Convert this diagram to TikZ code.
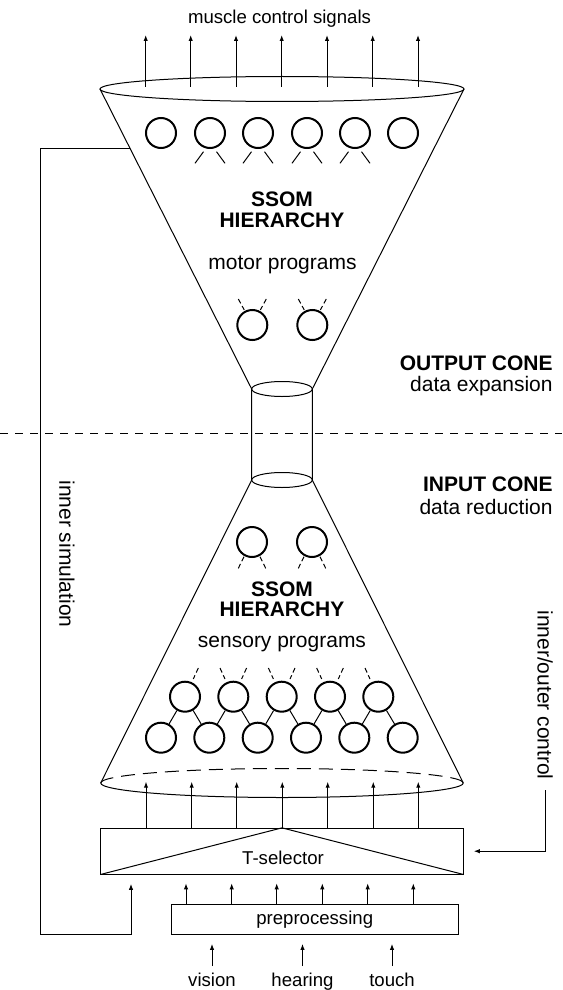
\documentclass[tikz,border=0pt]{standalone}
\usepackage{fontspec}
\setmainfont{Liberation Sans}
\usetikzlibrary{arrows.meta}

\begin{document}
\begin{tikzpicture}[x=0.5pt,y=-0.5pt,
  neuron/.style={draw,circle,line width=1pt,minimum size=15pt,inner sep=0pt},
  sig/.style={line width=0.5pt,-{Latex[length=3pt,width=2.2pt]}},
  thinline/.style={line width=0.5pt},
  dleg/.style={line width=0.5pt,dash pattern=on 2.5pt off 1.5pt},
  lbl/.style={font=\fontsize{10.5}{12}\selectfont,inner sep=0pt},
  hdr/.style={font=\bfseries\fontsize{10.5}{12}\selectfont,inner sep=0pt},
  small/.style={font=\fontsize{9.3}{11}\selectfont}]
\useasboundingbox (0,0) rectangle (562,990);

\coordinate (tl) at (100,89);
\coordinate (tr) at (464,89);
\coordinate (ctl) at (251.7,389);
\coordinate (ctr) at (312.3,389);
\coordinate (cbl) at (251.7,480);
\coordinate (cbr) at (312.3,480);
\coordinate (bl) at (100.7,783);
\coordinate (br) at (463.3,783);
\coordinate (fb) at (129.8,148.3);

\draw[thinline] (tl) -- (ctl) -- (cbl) -- (bl);
\draw[thinline] (tr) -- (ctr) -- (cbr) -- (br);
\draw[thinline] (282,89) ellipse [x radius=182, y radius=12.5];
\draw[thinline] (282,389) ellipse [x radius=30.3, y radius=7.5];
\draw[thinline] (282,480) ellipse [x radius=30.3, y radius=7.5];
\draw[thinline,dash pattern=on 7pt off 4pt] (bl) arc [start angle=180, end angle=360, x radius=181.3, y radius=14.5];
\draw[thinline] (bl) arc [start angle=180, end angle=0, x radius=181.3, y radius=14.5];

\draw[thinline,dash pattern=on 4pt off 3.5pt] (0,433) -- (562,433);

\node[small,anchor=base] (muscle) at (279.5,23.3) {muscle control signals};
\draw[sig] (145.7,87) -- (145.7,35);
\draw[sig] (190.7,87) -- (190.7,35);
\draw[sig] (236,87) -- (236,35);
\draw[sig] (281.7,87) -- (281.7,35);
\draw[sig] (327,87) -- (327,35);
\draw[sig] (372.7,87) -- (372.7,35);
\draw[sig] (418,87) -- (418,35);

\draw (161,133) node[neuron](t1) {};
\draw (210,133) node[neuron](t2) {};
\draw (258,133) node[neuron](t3) {};
\draw (307,133) node[neuron](t4) {};
\draw (355,133) node[neuron](t5) {};
\draw (403,133) node[neuron](t6) {};
\draw[thinline] (t2.center) ++(-6.5,18.7) -- ++(-8.5,11.6) (t2.center) ++(6.5,18.7) -- ++(8.5,11.6);
\draw[thinline] (t3.center) ++(-6.5,18.7) -- ++(-8.5,11.6) (t3.center) ++(6.5,18.7) -- ++(8.5,11.6);
\draw[thinline] (t4.center) ++(-6.5,18.7) -- ++(-8.5,11.6) (t4.center) ++(6.5,18.7) -- ++(8.5,11.6);
\draw[thinline] (t5.center) ++(-6.5,18.7) -- ++(-8.5,11.6) (t5.center) ++(6.5,18.7) -- ++(8.5,11.6);

\node[hdr,anchor=base] (ssom1) at (282,206) {SSOM};
\node[hdr,anchor=base] (hier1) at (282,227) {HIERARCHY};
\node[lbl,anchor=base] (motor) at (282.5,269.3) {motor programs};

\draw (252.3,325) node[neuron](m1) {};
\draw (312.3,325) node[neuron](m2) {};
\draw[dleg] (m1.center) ++(-14,-26) -- ++(6,11) (m1.center) ++(14,-26) -- ++(-6,11);
\draw[dleg] (m2.center) ++(-14,-26) -- ++(6,11) (m2.center) ++(14,-26) -- ++(-6,11);

\node[hdr,anchor=base east] (outc) at (553,370.7) {OUTPUT CONE};
\node[lbl,anchor=base east] (outd) at (553,391) {data expansion};
\node[hdr,anchor=base east] (inc) at (553,491.7) {INPUT CONE};
\node[lbl,anchor=base east] (ind) at (553,514) {data reduction};

\draw (252,542) node[neuron](s1) {};
\draw (312,542) node[neuron](s2) {};
\draw[dleg] (s1.center) ++(-8,14.7) -- ++(-5.7,11.6) (s1.center) ++(8,14.7) -- ++(5.7,11.6);
\draw[dleg] (s2.center) ++(-8,14.7) -- ++(-5.7,11.6) (s2.center) ++(8,14.7) -- ++(5.7,11.6);

\node[hdr,anchor=base] (ssom2) at (282,596.7) {SSOM};
\node[hdr,anchor=base] (hier2) at (282,616.7) {HIERARCHY};
\node[lbl,anchor=base] (sens) at (282,647) {sensory programs};

\draw (185,696.7) node[neuron](u1) {};
\draw (233.3,696.7) node[neuron](u2) {};
\draw (281.7,696.7) node[neuron](u3) {};
\draw (330,696.7) node[neuron](u4) {};
\draw (378.3,696.7) node[neuron](u5) {};
\draw (161,737.7) node[neuron](l1) {};
\draw (209.3,737.7) node[neuron](l2) {};
\draw (257.7,737.7) node[neuron](l3) {};
\draw (306,737.7) node[neuron](l4) {};
\draw (354.3,737.7) node[neuron](l5) {};
\draw (402.7,737.7) node[neuron](l6) {};
\draw[thinline] (u1) -- (l1);
\draw[thinline] (u1) -- (l2);
\draw[thinline] (u2) -- (l2);
\draw[thinline] (u2) -- (l3);
\draw[thinline] (u3) -- (l3);
\draw[thinline] (u3) -- (l4);
\draw[thinline] (u4) -- (l4);
\draw[thinline] (u4) -- (l5);
\draw[thinline] (u5) -- (l5);
\draw[thinline] (u5) -- (l6);
\draw[dleg] (u1.center) ++(13.3,-28.7) -- ++(-5,11);
\draw[dleg] (u2.center) ++(-13.3,-28.7) -- ++(5,11) (u2.center) ++(13.3,-28.7) -- ++(-5,11);
\draw[dleg] (u3.center) ++(-13.3,-28.7) -- ++(5,11) (u3.center) ++(13.3,-28.7) -- ++(-5,11);
\draw[dleg] (u4.center) ++(-13.3,-28.7) -- ++(5,11) (u4.center) ++(13.3,-28.7) -- ++(-5,11);
\draw[dleg] (u5.center) ++(-13.3,-28.7) -- ++(5,11);

\node[draw,thinline,minimum width=181.3pt,minimum height=22.85pt,inner sep=0pt] (tsel) at (282,851.2) {};
\draw[thinline] (tsel.south west) -- (tsel.north) -- (tsel.south east);
\node[small,anchor=base] (tsellbl) at (283,864) {T-selector};
\draw[sig] (tsel.north -| 146,0) -- (146,781.7);
\draw[sig] (tsel.north -| 191.7,0) -- (191.7,781.7);
\draw[sig] (tsel.north -| 236.7,0) -- (236.7,781.7);
\draw[sig] (tsel.north -| 282.3,0) -- (282.3,781.7);
\draw[sig] (tsel.north -| 327.7,0) -- (327.7,781.7);
\draw[sig] (tsel.north -| 373.3,0) -- (373.3,781.7);
\draw[sig] (tsel.north -| 418.3,0) -- (418.3,781.7);

\node[draw,thinline,small,minimum width=143.7pt,minimum height=15pt,inner sep=0pt] (prep) at (314.7,919.3) {preprocessing};
\draw[sig] (prep.north -| 186,0) -- (186,883.3);
\draw[sig] (prep.north -| 231.7,0) -- (231.7,883.3);
\draw[sig] (prep.north -| 276.7,0) -- (276.7,883.3);
\draw[sig] (prep.north -| 322.3,0) -- (322.3,883.3);
\draw[sig] (prep.north -| 367.7,0) -- (367.7,883.3);
\draw[sig] (prep.north -| 413.3,0) -- (413.3,883.3);

\node[small,anchor=base] (vis) at (212,986.7) {vision};
\node[small,anchor=base] (hear) at (302.5,986.7) {hearing};
\node[small,anchor=base] (touch) at (392,986.7) {touch};
\draw[sig,shorten >=4.5pt] (vis.north) -- (prep.south -| vis.north);
\draw[sig,shorten >=4.5pt] (hear.north) -- (prep.south -| hear.north);
\draw[sig,shorten >=4.5pt] (touch.north) -- (prep.south -| touch.north);

\node[lbl,rotate=-90,anchor=west] (innsim) at (67,480) {inner simulation};
\draw[sig,shorten >=4.6pt] (fb) -- (40,148.3) |- (131,934.3) -- (tsel.south -| 131,0);

\node[lbl,rotate=-90,anchor=west] (ioc) at (545,610) {inner/outer control};
\draw[sig,shorten <=5pt,shorten >=5pt] (ioc.east) |- (tsel.east);
\end{tikzpicture}
\end{document}
